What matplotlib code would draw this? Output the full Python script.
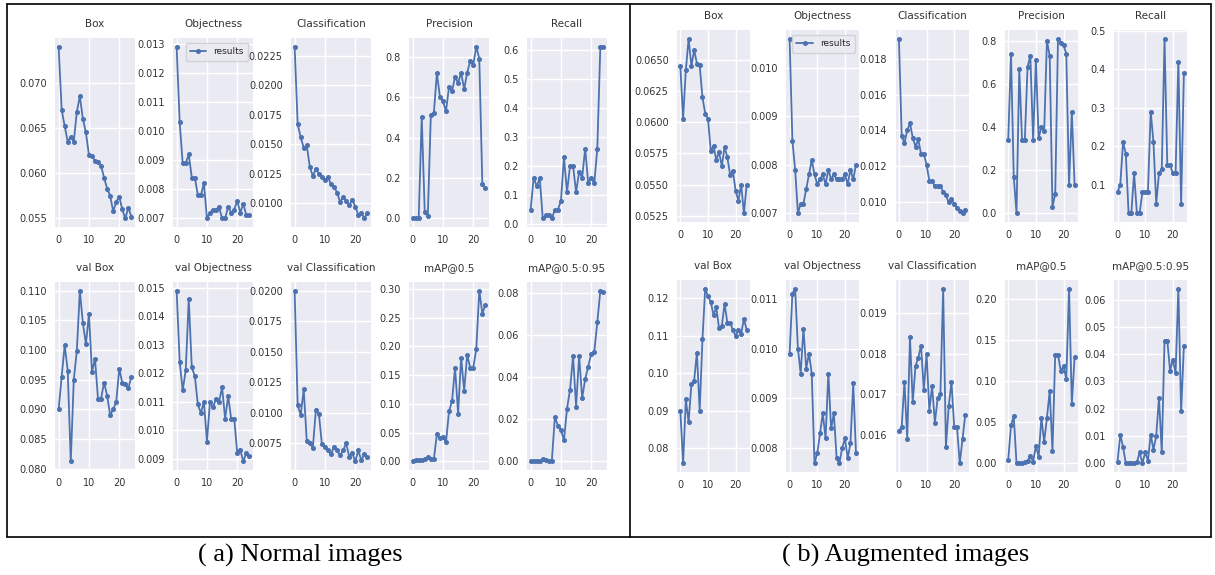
import matplotlib
matplotlib.use("Agg")
import matplotlib.pyplot as plt
import seaborn as sns
from matplotlib.lines import Line2D
from matplotlib.ticker import FixedLocator, FormatStrFormatter

# ---------------- data ----------------
epochs = list(range(25))
titles = ["Box", "Objectness", "Classification", "Precision", "Recall",
          "val Box", "val Objectness", "val Classification", "mAP@0.5", "mAP@0.5:0.95"]

# (a) Normal images
a_box = [0.0740, 0.0670, 0.0652, 0.0635, 0.0640, 0.0635, 0.0668, 0.0685, 0.0660, 0.0645,
         0.0620, 0.0619, 0.0614, 0.0612, 0.0608, 0.0595, 0.0583, 0.0575, 0.0558, 0.0568,
         0.0574, 0.0560, 0.0550, 0.0562, 0.0552]
a_obj = [0.0129, 0.0103, 0.0089, 0.0089, 0.0092, 0.0084, 0.0084, 0.0078, 0.0078, 0.0082,
         0.0070, 0.0072, 0.0073, 0.0073, 0.0074, 0.0070, 0.0070, 0.0074, 0.0072, 0.0073,
         0.0076, 0.0072, 0.0075, 0.0071, 0.0071]
a_cls = [0.0233, 0.0167, 0.0156, 0.0147, 0.0149, 0.0131, 0.0123, 0.0129, 0.0125, 0.0122,
         0.0120, 0.0122, 0.0116, 0.0114, 0.0109, 0.0101, 0.0105, 0.0102, 0.0098, 0.0103,
         0.0097, 0.0090, 0.0092, 0.0087, 0.0092]
a_prec = [0.00, 0.00, 0.00, 0.50, 0.03, 0.01, 0.51, 0.52, 0.72, 0.60,
          0.58, 0.53, 0.65, 0.63, 0.70, 0.67, 0.72, 0.64, 0.72, 0.78,
          0.76, 0.85, 0.79, 0.17, 0.15]
a_rec = [0.05, 0.16, 0.13, 0.16, 0.02, 0.03, 0.03, 0.02, 0.05, 0.05,
         0.08, 0.23, 0.11, 0.20, 0.20, 0.11, 0.18, 0.16, 0.26, 0.14,
         0.16, 0.14, 0.26, 0.61, 0.61]
a_vbox = [0.0900, 0.0955, 0.1008, 0.0965, 0.0812, 0.0950, 0.0998, 0.1100, 0.1045, 0.1010,
          0.1060, 0.0963, 0.0985, 0.0917, 0.0918, 0.0945, 0.0923, 0.0890, 0.0900, 0.0912,
          0.0968, 0.0945, 0.0942, 0.0935, 0.0955]
a_vobj = [0.0149, 0.0124, 0.0114, 0.0121, 0.0146, 0.0122, 0.0119, 0.0109, 0.0106, 0.0110,
          0.0096, 0.0110, 0.0108, 0.0111, 0.0110, 0.0115, 0.0104, 0.0112, 0.0104, 0.0104,
          0.0092, 0.0093, 0.0089, 0.0092, 0.0091]
a_vcls = [0.0200, 0.0106, 0.0098, 0.0119, 0.0077, 0.0075, 0.0071, 0.0102, 0.0099, 0.0074,
          0.0072, 0.0069, 0.0066, 0.0072, 0.0069, 0.0065, 0.0069, 0.0075, 0.0064, 0.0067,
          0.0060, 0.0069, 0.0061, 0.0066, 0.0064]
a_map50 = [0.000, 0.002, 0.002, 0.002, 0.004, 0.007, 0.005, 0.004, 0.047, 0.040,
           0.043, 0.033, 0.087, 0.105, 0.163, 0.083, 0.180, 0.123, 0.185, 0.163,
           0.163, 0.195, 0.297, 0.257, 0.272]
a_map = [0.0000, 0.0002, 0.0001, 0.0002, 0.0012, 0.0006, 0.0003, 0.0004, 0.0210, 0.0170,
         0.0150, 0.0100, 0.0250, 0.0340, 0.0500, 0.0260, 0.0500, 0.0300, 0.0390, 0.0450,
         0.0510, 0.0520, 0.0660, 0.0810, 0.0805]

# (b) Augmented images
b_box = [0.0645, 0.0603, 0.0642, 0.0667, 0.0645, 0.0658, 0.0647, 0.0646, 0.0620, 0.0607,
         0.0603, 0.0577, 0.0581, 0.0570, 0.0576, 0.0565, 0.0580, 0.0572, 0.0558, 0.0561,
         0.0545, 0.0537, 0.0550, 0.0527, 0.0550]
b_obj = [0.0106, 0.0085, 0.0079, 0.0070, 0.0072, 0.0072, 0.0075, 0.0078, 0.0081, 0.0078,
         0.0076, 0.0077, 0.0078, 0.0076, 0.0079, 0.0077, 0.0078, 0.0077, 0.0077, 0.0077,
         0.0078, 0.0076, 0.0079, 0.0077, 0.0080]
b_cls = [0.0191, 0.0137, 0.0133, 0.0140, 0.0144, 0.0136, 0.0131, 0.0135, 0.0127, 0.0127,
         0.0121, 0.0112, 0.0112, 0.0109, 0.0109, 0.0109, 0.0106, 0.0104, 0.0100, 0.0102,
         0.0099, 0.0097, 0.0095, 0.0094, 0.0096]
b_prec = [0.34, 0.74, 0.17, 0.00, 0.67, 0.34, 0.34, 0.68, 0.73, 0.34,
          0.71, 0.35, 0.40, 0.38, 0.80, 0.73, 0.03, 0.09, 0.81, 0.79,
          0.78, 0.74, 0.13, 0.47, 0.13]
b_rec = [0.08, 0.10, 0.21, 0.18, 0.025, 0.025, 0.13, 0.025, 0.025, 0.08,
         0.08, 0.08, 0.29, 0.21, 0.05, 0.13, 0.14, 0.48, 0.15, 0.15,
         0.13, 0.13, 0.42, 0.05, 0.39]
b_vbox = [0.090, 0.076, 0.093, 0.087, 0.097, 0.098, 0.1055, 0.090, 0.109, 0.1225,
          0.1205, 0.119, 0.1155, 0.1175, 0.112, 0.1125, 0.1185, 0.1135, 0.1135, 0.1115,
          0.110, 0.1115, 0.1105, 0.1145, 0.1115]
b_vobj = [0.0099, 0.0111, 0.0112, 0.0100, 0.0095, 0.0104, 0.0096, 0.0099, 0.0095, 0.0077,
          0.0079, 0.0083, 0.0087, 0.0082, 0.0095, 0.0084, 0.0087, 0.0078, 0.0077, 0.0080,
          0.0082, 0.0078, 0.0081, 0.0093, 0.0079]
b_vcls = [0.0161, 0.0162, 0.0173, 0.0159, 0.0184, 0.0168, 0.0177, 0.0179, 0.0182, 0.0171,
          0.0180, 0.0166, 0.0172, 0.0163, 0.0169, 0.0170, 0.0196, 0.0157, 0.0167, 0.0173,
          0.0162, 0.0162, 0.0153, 0.0159, 0.0165]
b_map50 = [0.004, 0.046, 0.057, 0.000, 0.000, 0.000, 0.001, 0.003, 0.009, 0.002,
           0.021, 0.008, 0.055, 0.026, 0.055, 0.088, 0.015, 0.132, 0.132, 0.112,
           0.118, 0.102, 0.212, 0.072, 0.129]
b_map = [0.0005, 0.0105, 0.0060, 0.0000, 0.0000, 0.0000, 0.0000, 0.0003, 0.0040, 0.0000,
         0.0040, 0.0010, 0.0105, 0.0050, 0.0100, 0.0240, 0.0040, 0.0450, 0.0450, 0.0340,
         0.0380, 0.0330, 0.0640, 0.0190, 0.0430]

a_series = [a_box, a_obj, a_cls, a_prec, a_rec, a_vbox, a_vobj, a_vcls, a_map50, a_map]
b_series = [b_box, b_obj, b_cls, b_prec, b_rec, b_vbox, b_vobj, b_vcls, b_map50, b_map]

# y ticks and decimals per subplot
a_yticks = [[0.055, 0.060, 0.065, 0.070],
            [0.007, 0.008, 0.009, 0.010, 0.011, 0.012, 0.013],
            [0.0100, 0.0125, 0.0150, 0.0175, 0.0200, 0.0225],
            [0.0, 0.2, 0.4, 0.6, 0.8],
            [0.0, 0.1, 0.2, 0.3, 0.4, 0.5, 0.6],
            [0.080, 0.085, 0.090, 0.095, 0.100, 0.105, 0.110],
            [0.009, 0.010, 0.011, 0.012, 0.013, 0.014, 0.015],
            [0.0075, 0.0100, 0.0125, 0.0150, 0.0175, 0.0200],
            [0.00, 0.05, 0.10, 0.15, 0.20, 0.25, 0.30],
            [0.00, 0.02, 0.04, 0.06, 0.08]]
a_dec = [3, 3, 4, 1, 1, 3, 3, 4, 2, 2]
b_yticks = [[0.0525, 0.0550, 0.0575, 0.0600, 0.0625, 0.0650],
            [0.007, 0.008, 0.009, 0.010],
            [0.010, 0.012, 0.014, 0.016, 0.018],
            [0.0, 0.2, 0.4, 0.6, 0.8],
            [0.1, 0.2, 0.3, 0.4, 0.5],
            [0.08, 0.09, 0.10, 0.11, 0.12],
            [0.008, 0.009, 0.010, 0.011],
            [0.016, 0.017, 0.018, 0.019],
            [0.00, 0.05, 0.10, 0.15, 0.20],
            [0.00, 0.01, 0.02, 0.03, 0.04, 0.05, 0.06]]
b_dec = [4, 3, 3, 1, 1, 2, 3, 3, 2, 2]
xticks = [0, 10, 20]
captions = ["( a) Normal images", "( b) Augmented images"]

# ---------------- style ----------------
sns.set_theme(style="darkgrid")
plt.rcParams["font.family"] = ["DejaVu Sans"]
W, H = 1215, 575
fig = plt.figure(figsize=(W / 100, H / 100), dpi=100)
fig.patch.set_facecolor("white")
LINE = "#4C72B0"


def rect(x0, w, ytop, ybot):
    return [x0 / W, 1 - ybot / H, w / W, (ybot - ytop) / H]


def draw_panel(series, yticks, decs, x_start, x_step, w, rows):
    for i, (ys, yt, d) in enumerate(zip(series, yticks, decs)):
        r, c = divmod(i, 5)
        ytop, ybot = rows[r]
        ax = fig.add_axes(rect(x_start + c * x_step, w, ytop, ybot))
        ax.set_facecolor("#EAEAF2")
        ax.plot(epochs, ys, color=LINE, marker="o", markersize=2.6, linewidth=1.3,
                label="results")
        ax.yaxis.set_major_locator(FixedLocator(yt))
        ax.yaxis.set_major_formatter(FormatStrFormatter("%%.%df" % d))
        ax.set_xticks(xticks)
        ax.set_xlim(-1.2, 25.2)
        ax.tick_params(labelsize=7, colors="#333333", length=0, pad=6)
        ax.grid(True, color="white", linewidth=1.0)
        for s in ax.spines.values():
            s.set_visible(False)
        ax.set_title(titles[i], fontsize=7.5, color="#333333", pad=8)
        if i == 1:
            leg = ax.legend(loc="upper right", fontsize=6.5, handlelength=1.8,
                            borderpad=0.5, frameon=True)
            leg.get_frame().set_facecolor("#EAEAF2")
            leg.get_frame().set_edgecolor("#CCCCCC")


draw_panel(a_series, a_yticks, a_dec, 55, 118, 80, [(38, 227), (282, 470)])
draw_panel(b_series, b_yticks, b_dec, 677, 109.3, 73, [(30, 222), (280, 472)])

# borders
def fline(x0, y0, x1, y1, lw=1.2):
    fig.add_artist(Line2D([x0 / W, x1 / W], [1 - y0 / H, 1 - y1 / H],
                          color="black", linewidth=lw, transform=fig.transFigure))

fline(7, 4, 1211, 4)
fline(7, 537, 1211, 537)
fline(7, 4, 7, 537)
fline(630, 4, 630, 537)
fline(1211, 4, 1211, 537)

fig.text(300 / W, 1 - 555 / H, captions[0], ha="center", va="center",
         fontsize=19, family="Liberation Serif", color="black")
fig.text(906 / W, 1 - 555 / H, captions[1], ha="center", va="center",
         fontsize=19, family="Liberation Serif", color="black")

fig.savefig("out.png", dpi=100, facecolor="white")
